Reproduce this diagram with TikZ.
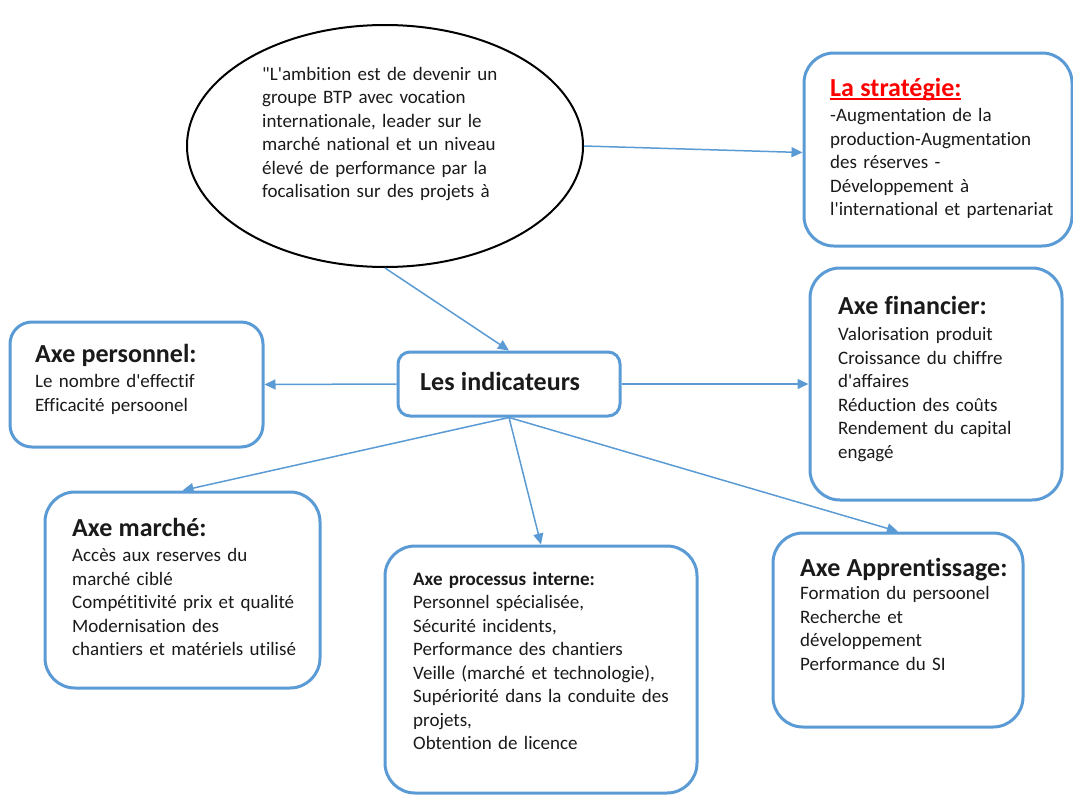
\documentclass[tikz,border=0pt]{standalone}
\usepackage{fontspec}
\setmainfont{Carlito}[Ligatures=CommonOff]
\usetikzlibrary{shapes.geometric,arrows.meta}
\definecolor{boxblue}{HTML}{5B9BD5}
\definecolor{txtgray}{HTML}{1A1A1A}
\definecolor{stratred}{HTML}{FF0000}
\newcommand\sq{\XeTeXglyph\XeTeXcharglyph"27\relax}
\newcommand\dq{\XeTeXglyph\XeTeXcharglyph"22\relax}
\newcommand\redul[1]{\setbox0\hbox{#1}\rlap{\rule[-3.5pt]{\wd0}{1.8pt}}\box0}
\newcommand\ttl[1]{{\fontsize{26}{23.5}\selectfont\bfseries #1}}
\begin{document}
\begin{tikzpicture}[x=1pt,y=-1pt,
  box/.style={draw=boxblue,line width=3pt,rounded corners=30pt,fill=white,inner sep=0pt},
  body/.style={anchor=base west,inner sep=0pt,text width=330pt,align=left,
    font=\fontsize{19}{23.5}\selectfont,text=txtgray},
  conn/.style={draw=boxblue,line width=1.5pt,-{Triangle[length=11pt,width=10pt]}},
]
\useasboundingbox (0,0) rectangle (1073,795);
% shapes
\node[ellipse,draw=black,line width=2pt,fill=white,minimum width=396pt,minimum height=242pt,inner sep=0pt] (ell) at (385,146) {};
\node[box,minimum width=268pt,minimum height=193pt] (strat) at (938,149.5) {};
\node[box,minimum width=252pt,minimum height=232pt] (fin) at (936,384) {};
\node[box,minimum width=253pt,minimum height=125pt,rounded corners=22pt] (pers) at (136.5,384.5) {};
\node[box,minimum width=222pt,minimum height=64pt,rounded corners=12pt] (ind) at (509,384) {};
\node[box,minimum width=275pt,minimum height=196pt] (mar) at (182.5,590) {};
\node[box,minimum width=312pt,minimum height=247pt] (proc) at (541,669.5) {};
\node[box,minimum width=250pt,minimum height=194pt] (app) at (898,630) {};
% texts
\node[body] (ellT) at (262,80) {\dq L\sq ambition est de devenir un\\ groupe BTP avec vocation\\ internationale, leader sur le\\ marché national et un niveau\\ élevé de performance par la\\ focalisation sur des projets à};
\node[body] (stratT) at (830,96) {{\color{stratred}\ttl{\redul{La stratégie:}}}\\[2pt] -Augmentation de la\\ production-Augmentation\\ des réserves -\\ Développement à\\ l\sq international et partenariat};
\node[body] (finT) at (838,314) {\ttl{Axe financier:}\\[3pt] Valorisation produit\\ Croissance du chiffre\\ d\sq affaires\\ Réduction des coûts\\ Rendement du capital\\ engagé};
\node[body] (persT) at (35,362) {\ttl{Axe personnel:}\\[2pt] Le nombre d\sq effectif\\ Efficacité persoonel};
\node[body] (indT) at (420,390) {\ttl{Les indicateurs}};
\node[body] (marT) at (72,536) {\ttl{Axe marché:}\\[2pt] Accès aux reserves du\\ marché ciblé\\ Compétitivité prix et qualité\\ Modernisation des\\ chantiers et matériels utilisé};
\node[body] (procT) at (413,585) {\textbf{Axe processus interne:}\\ Personnel spécialisée,\\ Sécurité incidents,\\ Performance des chantiers\\ Veille (marché et technologie),\\ Supériorité dans la conduite des\\ projets,\\ Obtention de licence};
\node[body] (appT) at (800,576) {\ttl{Axe Apprentissage:}\\ Formation du persoonel\\ Recherche et\\ développement\\ Performance du SI};
% connectors
\draw[conn] (ell.east) -- ([yshift=-3pt]strat.west);
\draw[conn] (ell.south) -- (ind.north);
\draw[conn] (ind.west) -- (pers.east);
\draw[conn] (ind.east) -- (fin.west);
\draw[conn] (ind.south) -- (mar.north);
\draw[conn] (ind.south) -- (proc.north);
\draw[conn] (ind.south) -- (app.north);
\end{tikzpicture}
\end{document}
